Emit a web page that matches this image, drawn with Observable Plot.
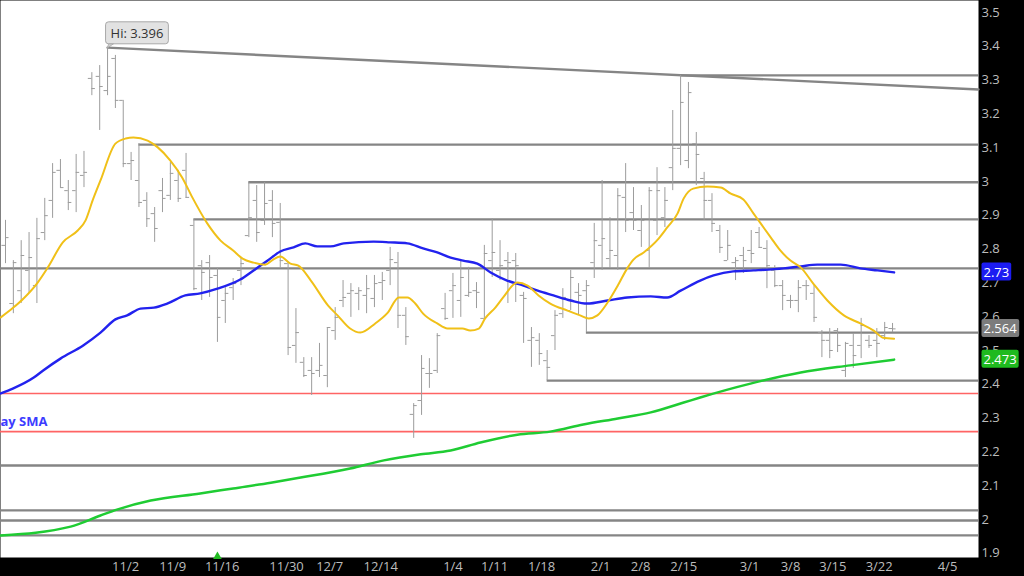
<!DOCTYPE html>
<html><head><meta charset="utf-8">
<script src="https://cdn.jsdelivr.net/npm/d3@7"></script>
<script src="https://cdn.jsdelivr.net/npm/@observablehq/plot@0.6"></script>
<style>html,body{margin:0;padding:0;background:#000;overflow:hidden}</style>
</head><body><div id="chart"></div>
<script>
// ---- OHLC bars (bar index 0..113) ----
const opens = [2.811,2.639,2.677,2.737,2.692,2.849,2.944,3.033,2.973,2.973,
3.018,3.305,3.311,3.269,3.364,3.240,3.053,3.003,2.944,2.905,
2.973,2.959,3.003,3.033,2.870,2.751,2.760,2.722,2.648,2.686,
2.737,2.840,2.944,2.885,2.944,2.879,2.757,2.515,2.465,2.441,
2.441,2.426,2.559,2.648,2.669,2.669,2.663,2.654,2.701,2.737,
2.760,2.604,2.311,2.352,2.432,2.441,2.624,2.677,2.648,2.663,
2.677,2.595,2.766,2.737,2.766,2.766,2.663,2.530,2.530,2.470,
2.544,2.609,2.618,2.672,2.677,2.760,2.811,2.772,2.781,2.953,
2.908,2.855,2.796,2.885,2.893,3.041,3.098,3.062,3.112,3.009,
2.944,2.855,2.766,2.760,2.781,2.796,2.849,2.802,2.737,2.692,
2.648,2.648,2.692,2.669,2.553,2.530,2.559,2.441,2.515,2.515,
2.530,2.530,2.544,2.565];
const highs = [2.885,2.766,2.825,2.849,2.891,2.950,3.053,3.065,3.003,3.080,
3.089,3.322,3.343,3.396,3.373,3.240,3.086,3.112,2.967,2.923,
3.009,3.056,3.033,3.083,2.888,2.766,2.781,2.743,2.686,2.713,
2.775,2.997,2.988,2.997,2.973,2.935,2.760,2.624,2.479,2.479,
2.521,2.568,2.627,2.707,2.698,2.686,2.722,2.722,2.731,2.805,
2.790,2.627,2.343,2.485,2.476,2.550,2.669,2.728,2.766,2.746,
2.701,2.811,2.890,2.825,2.790,2.787,2.672,2.568,2.550,2.500,
2.618,2.683,2.737,2.698,2.707,2.876,3.003,2.893,2.979,3.053,
2.982,2.929,2.982,3.041,2.982,3.210,3.314,3.293,3.145,3.027,
2.964,2.870,2.855,2.775,2.805,2.855,2.864,2.825,2.751,2.707,
2.663,2.707,2.707,2.692,2.559,2.565,2.565,2.524,2.550,2.595,
2.544,2.565,2.583,2.580];
const lows = [2.757,2.609,2.639,2.669,2.639,2.825,2.891,2.982,2.914,2.908,
2.982,3.254,3.151,3.254,3.216,3.041,3.003,2.923,2.864,2.820,
2.908,2.944,2.938,2.950,2.677,2.648,2.657,2.524,2.580,2.648,
2.692,2.834,2.820,2.870,2.834,2.743,2.485,2.462,2.420,2.367,
2.420,2.390,2.530,2.627,2.598,2.618,2.609,2.627,2.648,2.692,
2.565,2.515,2.240,2.308,2.388,2.432,2.589,2.595,2.598,2.657,
2.624,2.589,2.716,2.707,2.639,2.642,2.521,2.450,2.456,2.411,
2.500,2.595,2.618,2.604,2.553,2.713,2.737,2.743,2.737,2.849,
2.855,2.805,2.743,2.840,2.864,2.973,3.047,3.038,2.988,2.885,
2.849,2.787,2.766,2.707,2.728,2.757,2.802,2.683,2.686,2.618,
2.624,2.612,2.648,2.583,2.479,2.476,2.494,2.420,2.447,2.476,
2.506,2.479,2.530,2.553];
const closes = [2.834,2.760,2.781,2.775,2.831,2.899,3.027,2.982,2.938,3.027,
3.027,3.275,3.281,3.311,3.240,3.053,3.062,2.938,2.890,2.861,
2.950,3.024,2.950,2.953,2.683,2.731,2.716,2.598,2.669,2.698,
2.757,2.893,2.849,2.935,2.876,2.766,2.509,2.553,2.426,2.432,
2.456,2.568,2.598,2.657,2.677,2.677,2.683,2.698,2.707,2.769,
2.604,2.541,2.337,2.447,2.432,2.544,2.595,2.692,2.716,2.672,
2.672,2.787,2.790,2.751,2.760,2.751,2.654,2.538,2.491,2.450,
2.604,2.657,2.716,2.663,2.692,2.825,2.831,2.796,2.958,2.885,
2.885,2.885,2.973,2.973,2.944,3.098,3.234,3.263,3.080,2.944,
2.876,2.805,2.811,2.766,2.766,2.787,2.805,2.751,2.692,2.663,
2.648,2.686,2.692,2.598,2.530,2.500,2.515,2.521,2.485,2.574,
2.515,2.521,2.568,2.564];

// ---- moving averages (bar index, value) ----
const fastIdx = [-0.6,1.0,2.3,4.1,5.4,7.3,9.2,10.2,11.1,12.1,14.0,15.3,16.3,18.1,19.4,21.0,22.5,23.8,25.7,27.4,29.0,30.2,31.6,33.1,34.1,35.0,36.3,37.3,38.9,41.1,42.3,43.9,45.2,47.1,48.7,50.1,51.2,52.2,53.2,55.0,56.3,58.2,59.2,60.3,61.1,62.4,63.4,65.2,66.5,67.9,69.4,71.6,73.2,74.3,75.4,76.7,78.0,79.2,80.0,81.3,83.2,84.3,85.6,86.4,87.6,89.4,91.1,92.4,94.0,95.3,96.2,97.5,98.7,100.0,101.3,102.9,104.7,106.8,108.9,110.6,111.8,113.2];
const fastVal = [2.598,2.627,2.654,2.701,2.746,2.820,2.855,2.885,2.944,3.003,3.112,3.127,3.130,3.121,3.101,3.062,3.012,2.953,2.876,2.825,2.796,2.772,2.760,2.754,2.769,2.778,2.757,2.751,2.707,2.633,2.604,2.565,2.553,2.580,2.612,2.657,2.657,2.639,2.609,2.580,2.565,2.565,2.559,2.565,2.595,2.627,2.657,2.701,2.692,2.663,2.639,2.618,2.604,2.595,2.604,2.642,2.692,2.743,2.769,2.790,2.831,2.864,2.905,2.950,2.979,2.985,2.982,2.964,2.947,2.905,2.876,2.834,2.796,2.766,2.746,2.698,2.648,2.604,2.580,2.559,2.538,2.535];
const midIdx = [-0.6,1.0,3.6,4.8,7.0,9.9,12.1,14.0,15.5,17.2,18.9,20.6,22.9,24.8,27.0,29.9,31.6,33.4,35.0,36.7,38.2,39.7,41.4,43.1,46.9,49.0,51.2,53.2,55.0,56.7,58.3,60.1,61.8,63.9,66.0,67.8,69.8,72.0,74.1,76.7,79.2,82.2,84.3,86.0,88.5,90.2,92.7,95.3,99.1,101.3,103.4,106.4,108.9,111.1,113.2];
const midVal = [2.373,2.388,2.420,2.441,2.476,2.515,2.553,2.592,2.604,2.624,2.627,2.639,2.663,2.669,2.683,2.710,2.737,2.766,2.793,2.805,2.817,2.808,2.808,2.817,2.822,2.820,2.817,2.802,2.790,2.775,2.766,2.757,2.731,2.707,2.692,2.677,2.663,2.648,2.639,2.648,2.657,2.660,2.657,2.677,2.707,2.722,2.734,2.737,2.743,2.749,2.754,2.754,2.743,2.737,2.731];
const slowIdx = [-0.6,8.3,12.1,14.3,18.5,24.8,29.0,33.8,37.6,43.9,48.2,52.9,56.7,60.5,65.2,69.4,73.6,78.0,82.2,86.4,88.5,94.9,101.3,107.6,113.2];
const slowVal = [1.953,1.979,2.012,2.030,2.056,2.077,2.092,2.109,2.124,2.151,2.175,2.193,2.204,2.228,2.251,2.260,2.281,2.299,2.317,2.346,2.361,2.402,2.435,2.456,2.473];

// ---- levels ----
const levelVals   = [3.314, 3.109, 2.998, 2.888, 2.743, 2.553, 2.411, 2.160, 2.027, 1.997, 1.953];
const levelStarts = [86, 17, 31, 24, null, 74, 69, null, null, null, null];
const redLevels = [2.373, 2.260];
const trendIdx = [13, 123.95];
const trendVal = [3.396, 3.272];

// ---- axes ----
const yTicks = [1.9,2.0,2.1,2.2,2.3,2.4,2.5,2.6,2.7,2.8,2.9,3.0,3.1,3.2,3.3,3.4,3.5];
const xTickIdx = [15.3,21.3,27.6,35.8,41.3,47.8,57.0,62.3,68.3,75.8,80.9,86.4,94.8,100.0,105.4,111.3,120.0];
const xTickLabels = ["11/2","11/9","11/16","11/30","12/7","12/14","1/4","1/11","1/18","2/1","2/8","2/15","3/1","3/8","3/15","3/22","4/5"];
const badgeVals = [2.731, 2.564, 2.473];
const badgeLabels = ["2.73", "2.564", "2.473"];
const markerIdx = [27];
const smaText = ["ay SMA"];
const smaTextVal = [2.29];

// ---- build ----
const xDomain = [-0.637, 123.95];
const bars = opens.map((o, i) => ({i, o, h: highs[i], l: lows[i], c: closes[i]}));
const pts = (xs, ys) => xs.map((x, k) => ({x, y: ys[k]}));
const levels = levelVals.map((v, k) => ({v, s: levelStarts[k] ?? xDomain[0]}));
const xTickMap = new Map(xTickIdx.map((d, k) => [d, xTickLabels[k]]));
const hiVal = d3.max(highs), hiIdx = highs.indexOf(hiVal);
const hiLabel = `Hi: ${hiVal.toFixed(3)}`;
const badgeColors = ["#1c1cf2", "#7c7c7c", "#1fba1f"];

const chart = Plot.plot({
  width: 1024, height: 576,
  marginLeft: 0, marginRight: 46, marginTop: 0, marginBottom: 19,
  style: {background: "#000", color: "#bdbdbd", fontFamily: "'Open Sans', sans-serif", fontSize: "13px"},
  x: {type: "linear", domain: xDomain, ticks: xTickIdx, tickFormat: d => xTickMap.get(d) ?? "", tickSize: 0, tickPadding: 4, label: null},
  y: {domain: [1.8876, 3.5355], axis: "right", ticks: yTicks, tickFormat: d => String(+d.toFixed(1)), tickSize: 0, tickPadding: 3, label: null},
  marks: [
    Plot.frame({fill: "#fff", stroke: null}),
    Plot.ruleY(levels, {y: "v", x1: "s", x2: xDomain[1], stroke: "#858585", strokeWidth: 2.4}),
    Plot.ruleY(redLevels, {y: d => d, stroke: "#ff6464", strokeWidth: 1.6}),
    Plot.line(pts(trendIdx, trendVal), {x: "x", y: "y", stroke: "#858585", strokeWidth: 2.4}),
    Plot.ruleX(bars, {x: "i", y1: "l", y2: "h", stroke: "#9c9c9c", strokeWidth: 1}),
    Plot.ruleY(bars, {y: "o", x1: d => d.i - 0.45, x2: "i", stroke: "#9c9c9c", strokeWidth: 1}),
    Plot.ruleY(bars, {y: "c", x1: "i", x2: d => d.i + 0.45, stroke: "#9c9c9c", strokeWidth: 1}),
    Plot.line(pts(slowIdx, slowVal), {x: "x", y: "y", stroke: "#1fcc33", strokeWidth: 2.5, curve: "monotone-x"}),
    Plot.line(pts(midIdx, midVal), {x: "x", y: "y", stroke: "#2222ee", strokeWidth: 2.4, curve: "monotone-x"}),
    Plot.line(pts(fastIdx, fastVal), {x: "x", y: "y", stroke: "#f0c018", strokeWidth: 2, curve: "monotone-x"}),
    Plot.text(smaText, {text: d => d, y: smaTextVal, frameAnchor: "left", textAnchor: "start", fill: "#3c3cff", fontWeight: "bold", fontSize: 13}),
    Plot.dot(markerIdx, {x: d => d, frameAnchor: "bottom", symbol: "triangle", r: 3.2, fill: "#22bb22", stroke: null, dy: -1}),
    Plot.text([hiVal], {x: hiIdx, y: d => d, text: () => hiLabel, textAnchor: "start", dx: 3, dy: -14, fill: "#333", fontSize: 13}),
    Plot.text(badgeVals, {x: xDomain[1], y: d => d, text: (d, k) => badgeLabels[k], textAnchor: "start", dx: 5, fill: "#fff", fontSize: 13})
  ]
});
document.getElementById("chart").append(chart);

const NS = "http://www.w3.org/2000/svg";
function boxBehind(textEl, fill, stroke, padX, padY, rx) {
  const b = textEl.getBBox();
  const r = document.createElementNS(NS, "rect");
  r.setAttribute("x", b.x - padX); r.setAttribute("y", b.y - padY);
  r.setAttribute("width", b.width + 2 * padX); r.setAttribute("height", b.height + 2 * padY);
  r.setAttribute("rx", rx); r.setAttribute("fill", fill);
  if (stroke) { r.setAttribute("stroke", stroke); r.setAttribute("stroke-width", 1); }
  const t = textEl.getAttribute("transform"); if (t) r.setAttribute("transform", t);
  textEl.parentNode.insertBefore(r, textEl);
  return {b, t};
}
const allTexts = Array.from(chart.querySelectorAll("text"));
const hiText = allTexts.find(el => el.textContent === hiLabel);
if (hiText) {
  const {b, t} = boxBehind(hiText, "#e2e2e2", "#a8a8a8", 5, 2, 3);
  const p = document.createElementNS(NS, "path");
  const x0 = b.x - 5, y0 = b.y + b.height + 2;
  p.setAttribute("d", `M${x0 + 3},${y0} L${x0 + 8},${y0} L${x0 + 2},${y0 + 4} Z`);
  p.setAttribute("fill", "#cfcfcf"); p.setAttribute("stroke", "#a8a8a8"); p.setAttribute("stroke-width", 0.8);
  if (t) p.setAttribute("transform", t);
  hiText.parentNode.insertBefore(p, hiText);
}
badgeLabels.forEach((lab, k) => {
  const el = allTexts.find(e => e.textContent === lab);
  if (el) boxBehind(el, badgeColors[k], null, 2, 0, 2);
});
</script>
</body></html>
